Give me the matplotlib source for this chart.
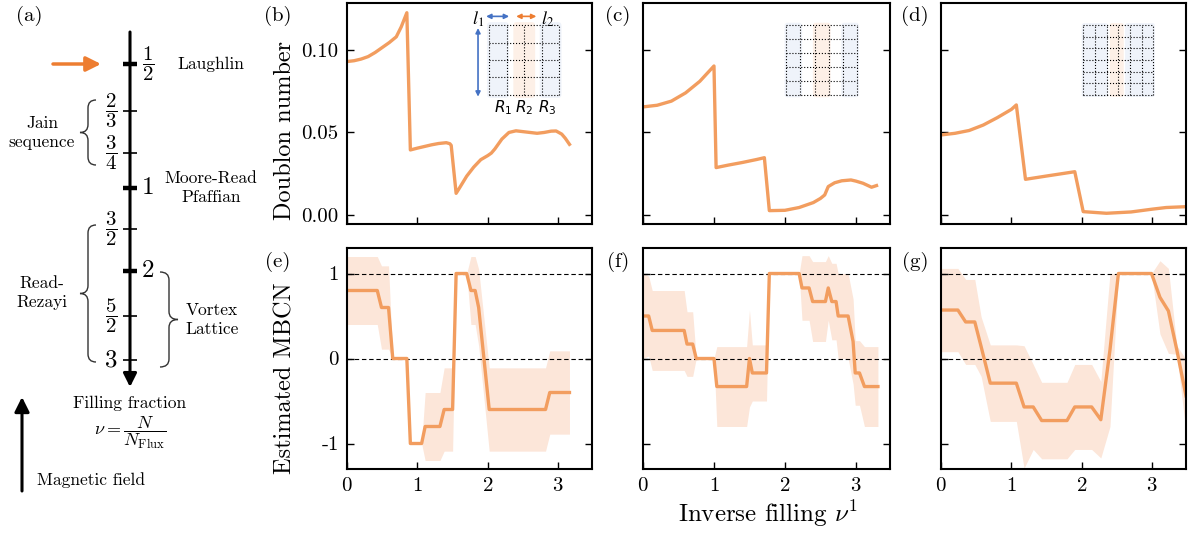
import numpy as np
import matplotlib
matplotlib.use('Agg')
import matplotlib.pyplot as plt
from matplotlib.path import Path
from matplotlib.patches import PathPatch, FancyBboxPatch

plt.rcParams['font.family'] = 'serif'
plt.rcParams['font.serif'] = ['cmr10']
plt.rcParams['mathtext.fontset'] = 'cm'
plt.rcParams['axes.unicode_minus'] = False
plt.rcParams['axes.formatter.use_mathtext'] = True

LINE = '#F29D5F'
BAND = '#FCE6D9'
ORANGE = '#ED7D31'
BLUE = '#4472C4'

W, H = 1192, 535

# ---- doublon number vs inverse filling (b, c, d) ----
b_x = [0.0, 0.1, 0.2, 0.3, 0.4, 0.5, 0.6, 0.7, 0.77, 0.85, 0.90, 1.0, 1.1, 1.2, 1.3, 1.41, 1.46, 1.48,
       1.55, 1.6, 1.7, 1.8, 1.9, 2.0, 2.05, 2.1, 2.2, 2.3, 2.4, 2.5, 2.6, 2.7, 2.8, 2.9, 2.97, 3.05, 3.1, 3.16]
b_y = [0.093, 0.0935, 0.0945, 0.096, 0.0985, 0.1015, 0.1045, 0.108, 0.114, 0.1226, 0.0394, 0.0405, 0.0415,
       0.0425, 0.0433, 0.0438, 0.0432, 0.0422, 0.0131, 0.0165, 0.0235, 0.029, 0.0335, 0.036, 0.0375, 0.040,
       0.046, 0.050, 0.051, 0.0505, 0.050, 0.0495, 0.050, 0.0508, 0.0509, 0.049, 0.0465, 0.0428]

c_x = [0.0, 0.2, 0.4, 0.6, 0.8, 1.0, 1.03, 1.2, 1.4, 1.6, 1.71, 1.78, 2.0, 2.2, 2.4, 2.5, 2.56, 2.61,
       2.7, 2.8, 2.93, 3.0, 3.1, 3.22, 3.29]
c_y = [0.0655, 0.0665, 0.069, 0.074, 0.081, 0.0903, 0.0287, 0.0302, 0.0318, 0.0336, 0.0347, 0.0026,
       0.0028, 0.0045, 0.0075, 0.010, 0.0121, 0.0172, 0.0195, 0.0207, 0.0212, 0.0205, 0.0192, 0.0168, 0.0178]

d_x = [0.0, 0.2, 0.4, 0.6, 0.8, 1.0, 1.07, 1.20, 1.5, 1.9, 2.02, 2.35, 2.7, 3.0, 3.2, 3.48]
d_y = [0.0485, 0.0495, 0.0512, 0.0545, 0.059, 0.064, 0.0667, 0.0216, 0.0236, 0.0262, 0.002, 0.001,
       0.0018, 0.0035, 0.0045, 0.005]

# ---- estimated MBCN (e, f, g): mean and spread ----
e_x = [0.00, 0.43, 0.49, 0.59, 0.65, 0.85, 0.90, 1.06, 1.11, 1.32, 1.38, 1.50, 1.55, 1.70, 1.76, 1.82,
       1.87, 2.02, 2.82, 2.88, 3.16]
e_mean = [0.8, 0.8, 0.6, 0.6, 0.0, 0.0, -1.0, -1.0, -0.8, -0.8, -0.6, -0.6, 1.0, 1.0, 0.8, 0.8,
          0.6, -0.6, -0.6, -0.4, -0.4]
e_std = [0.4, 0.4, 0.49, 0.49, 0.0, 0.0, 0.0, 0.0, 0.4, 0.4, 0.49, 0.49, 0.0, 0.0, 0.4, 0.4,
         0.45, 0.49, 0.49, 0.49, 0.49]

f_x = [0.00, 0.08, 0.13, 0.58, 0.62, 0.70, 0.75, 1.00, 1.04, 1.46, 1.50, 1.54, 1.74, 1.78, 2.20, 2.24,
       2.34, 2.39, 2.57, 2.61, 2.66, 2.72, 2.75, 2.89, 2.96, 2.99, 3.05, 3.12, 3.31]
f_mean = [0.5, 0.5, 0.33, 0.33, 0.17, 0.17, 0.0, 0.0, -0.33, -0.33, 0.0, -0.17, -0.17, 1.0, 1.0, 0.83,
          0.83, 0.67, 0.67, 0.83, 0.67, 0.67, 0.5, 0.5, 0.2, -0.17, -0.17, -0.33, -0.33]
f_std = [0.5, 0.47, 0.47, 0.47, 0.38, 0.38, 0.0, 0.0, 0.47, 0.47, 0.57, 0.33, 0.33, 0.0, 0.0, 0.38,
         0.38, 0.47, 0.47, 0.38, 0.45, 0.45, 0.5, 0.5, 0.5, 0.38, 0.38, 0.47, 0.47]

g_x = [0.00, 0.24, 0.35, 0.48, 0.57, 0.70, 1.07, 1.18, 1.31, 1.43, 1.79, 1.90, 2.14, 2.27, 2.40, 2.52,
       2.99, 3.11, 3.23, 3.35, 3.48]
g_mean = [0.57, 0.57, 0.43, 0.43, 0.14, -0.29, -0.29, -0.57, -0.57, -0.73, -0.73, -0.57, -0.57, -0.72,
          0.1, 1.0, 1.0, 0.72, 0.56, 0.1, -0.44]
g_std = [0.49, 0.49, 0.5, 0.5, 0.35, 0.45, 0.45, 0.72, 0.5, 0.45, 0.45, 0.5, 0.5, 0.45, 0.9, 0.0,
         0.0, 0.43, 0.5, 0.05, 0.43]

# ---- filling fraction ladder (a) ----
fill_labels = [r'$\dfrac{1}{2}$', r'$\dfrac{2}{3}$', r'$\dfrac{3}{4}$', '1', r'$\dfrac{3}{2}$', '2',
               r'$\dfrac{5}{2}$', '3']
fill_major = [True, False, False, True, False, True, False, False]
fill_pos = [64, 111, 153, 188, 229, 271, 316, 360]   # vertical order on the schematic

# inset lattices: grid size and column spans of R1, R2, R3
lattices = {'b': (4, [(0, 1), (1.5, 2.5), (3, 4)]),
            'c': (5, [(0, 1), (2, 3), (4, 5)]),
            'd': (6, [(0, 2), (2.4, 3.35), (3.7, 6)])}


def rect(x0, y0, x1, y1):
    return [x0 / W, 1 - y1 / H, (x1 - x0) / W, (y1 - y0) / H]


def brace(ax, x, y0, y1, d, **kw):
    ym = (y0 + y1) / 2
    r = 8
    h = x + d / 2
    verts = [(x, y0), (h, y0), (h, y0 + r), (h, ym - r), (h, ym), (x + d, ym),
             (h, ym), (h, ym + r), (h, y1 - r), (h, y1), (x, y1)]
    codes = [Path.MOVETO, Path.CURVE3, Path.CURVE3, Path.LINETO, Path.CURVE3, Path.CURVE3,
             Path.CURVE3, Path.CURVE3, Path.LINETO, Path.CURVE3, Path.CURVE3]
    ax.add_patch(PathPatch(Path(verts, codes), fill=False, **kw))


fig = plt.figure(figsize=(W / 100, H / 100), dpi=100)

# ---------------- panel (a) ----------------
ax_a = fig.add_axes(rect(0, 0, 262, H))
ax_a.set_xlim(0, 262)
ax_a.set_ylim(H, 0)
ax_a.axis('off')

ax_a.annotate('', xy=(130, 387), xytext=(130, 32),
              arrowprops=dict(arrowstyle='-|>', color='k', lw=2.2, mutation_scale=20,
                              shrinkA=0, shrinkB=0))
for lab, major, y in zip(fill_labels, fill_major, fill_pos):
    ax_a.plot([123, 137], [y, y], color='k', lw=3.2 if major else 1.2, solid_capstyle='butt')
    big = not lab.startswith('$')
    xt = 148 if major else 111
    ax_a.text(xt, y, lab, ha='center', va='center', fontsize=18 if big else 15)

ax_a.annotate('', xy=(101, 64), xytext=(53, 64),
              arrowprops=dict(arrowstyle='-|>', color=ORANGE, lw=2.5, mutation_scale=22,
                              shrinkA=0, shrinkB=0))
ax_a.text(211, 64, 'Laughlin', ha='center', va='center', fontsize=12.5)
ax_a.text(42, 133, 'Jain\nsequence', ha='center', va='center', fontsize=12.5, linespacing=1.3)
ax_a.text(211, 188, 'Moore-Read\nPfaffian', ha='center', va='center', fontsize=12.5, linespacing=1.3)
ax_a.text(42, 293, 'Read-\nRezayi', ha='center', va='center', fontsize=12.5, linespacing=1.3)
ax_a.text(212, 320, 'Vortex\nLattice', ha='center', va='center', fontsize=12.5, linespacing=1.3)
brace(ax_a, 96, 100, 165, -16, color='#333333', lw=1.0)
brace(ax_a, 96, 225, 362, -16, color='#333333', lw=1.0)
brace(ax_a, 160, 272, 367, 18, color='#333333', lw=1.0)

ax_a.text(130, 403, 'Filling fraction', ha='center', va='center', fontsize=12.5)
ax_a.text(130, 433, r'$\nu = \dfrac{N}{N_{\mathrm{Flux}}}$', ha='center', va='center', fontsize=13)
ax_a.annotate('', xy=(22, 397), xytext=(22, 491),
              arrowprops=dict(arrowstyle='-|>', color='k', lw=2.2, mutation_scale=22,
                              shrinkA=0, shrinkB=0))
ax_a.text(37, 480, 'Magnetic field', ha='left', va='center', fontsize=12.5)
ax_a.text(29, 16, '(a)', ha='center', va='center', fontsize=15)

# ---------------- panels (b)-(g) ----------------
cols = [(347, 592), (643, 890), (941, 1186)]
label_x = [278, 618, 915]
top_row = (3, 224)
bot_row = (248, 469)

top_data = [('b', b_x, b_y), ('c', c_x, c_y), ('d', d_x, d_y)]
bot_data = [('e', e_x, e_mean, e_std), ('f', f_x, f_mean, f_std), ('g', g_x, g_mean, g_std)]


def style(ax, first_col, bottom):
    for s in ax.spines.values():
        s.set_linewidth(1.5)
    ax.tick_params(direction='in', right=True, top=False, length=5, width=1.0, labelsize=15,
                   labelleft=first_col, labelbottom=bottom, pad=6)
    ax.set_xlim(0, 3.48)
    ax.set_xticks([0, 1, 2, 3])


def inset(ax, key, arrows):
    n, spans = lattices[key]
    ins = ax.inset_axes([0.58, 0.584, 0.287, 0.316])
    ins.set_xlim(0, n)
    ins.set_ylim(0, n)
    ins.axis('off')
    for (a, b), col in zip(spans, ['#EEF2FA', '#FDEFE5', '#EEF2FA']):
        ins.add_patch(FancyBboxPatch((a, -0.05), b - a, n + 0.1,
                                     boxstyle='round,pad=0.12,rounding_size=0.2',
                                     fc=col, ec='none', alpha=0.9, clip_on=False, zorder=1))
    for k in range(n + 1):
        ins.plot([k, k], [0, n], ls=':', color='k', lw=0.8, clip_on=False, zorder=2)
        ins.plot([0, n], [k, k], ls=':', color='k', lw=0.8, clip_on=False, zorder=2)
    if arrows:
        ap = dict(arrowstyle='<|-|>', lw=1.2, mutation_scale=7, shrinkA=0, shrinkB=0)
        ins.annotate('', xy=(-0.63, -0.1), xytext=(-0.63, 3.83),
                     arrowprops=dict(color=BLUE, **ap), annotation_clip=False)
        ins.annotate('', xy=(-0.17, 4.5), xytext=(1.14, 4.5),
                     arrowprops=dict(color=BLUE, **ap), annotation_clip=False)
        ins.annotate('', xy=(1.54, 4.5), xytext=(2.69, 4.5),
                     arrowprops=dict(color=ORANGE, **ap), annotation_clip=False)
        kw = dict(ha='center', va='center', fontsize=13, math_fontfamily='stix', clip_on=False)
        ins.text(-0.63, 4.35, r'$l_1$', **kw)
        ins.text(3.3, 4.35, r'$l_2$', **kw)
        kw['math_fontfamily'] = 'dejavusans'
        kw['fontsize'] = 11
        for xr, lab in zip([0.8, 2.0, 3.31], [r'$R_1$', r'$R_2$', r'$R_3$']):
            ins.text(xr, -0.72, lab, **kw)


for i, ((key, x, y), (x0, x1)) in enumerate(zip(top_data, cols)):
    ax = fig.add_axes(rect(x0, top_row[0], x1, top_row[1]))
    ax.plot(x, y, color=LINE, lw=2.4, solid_joinstyle='round')
    style(ax, i == 0, False)
    ax.set_ylim(-0.0055, 0.1285)
    ax.set_yticks([0, 0.05, 0.10])
    ax.set_yticklabels(['0.00', '0.05', '0.10'])
    inset(ax, key, key == 'b')
    fig.text(label_x[i] / W, 1 - 16 / H, f'({key})', ha='center', va='center', fontsize=15)

for i, ((key, x, m, s), (x0, x1)) in enumerate(zip(bot_data, cols)):
    ax = fig.add_axes(rect(x0, bot_row[0], x1, bot_row[1]))
    m = np.array(m)
    s = np.array(s)
    ax.fill_between(x, m - s, m + s, color=BAND, lw=0)
    ax.axhline(1, color='k', ls='--', lw=0.8, dashes=(4, 2.5))
    ax.axhline(0, color='k', ls='--', lw=0.8, dashes=(4, 2.5))
    ax.plot(x, m, color=LINE, lw=2.4, solid_joinstyle='round')
    style(ax, i == 0, True)
    ax.set_ylim(-1.3, 1.3)
    ax.set_yticks([-1, 0, 1])
    ax.set_yticklabels(['-1', '0', '1'])
    fig.text(label_x[i] / W, 1 - 262 / H, f'({key})', ha='center', va='center', fontsize=15)

fig.text(285 / W, 1 - 131 / H, 'Doublon number', rotation=90, ha='center', va='center', fontsize=17.5)
fig.text(285 / W, 1 - 378 / H, 'Estimated MBCN', rotation=90, ha='center', va='center', fontsize=17.5)
fig.text(768 / W, 1 - 514 / H, r'Inverse filling $\nu^1$', ha='center', va='center', fontsize=18)

fig.savefig('out.png', dpi=100)
